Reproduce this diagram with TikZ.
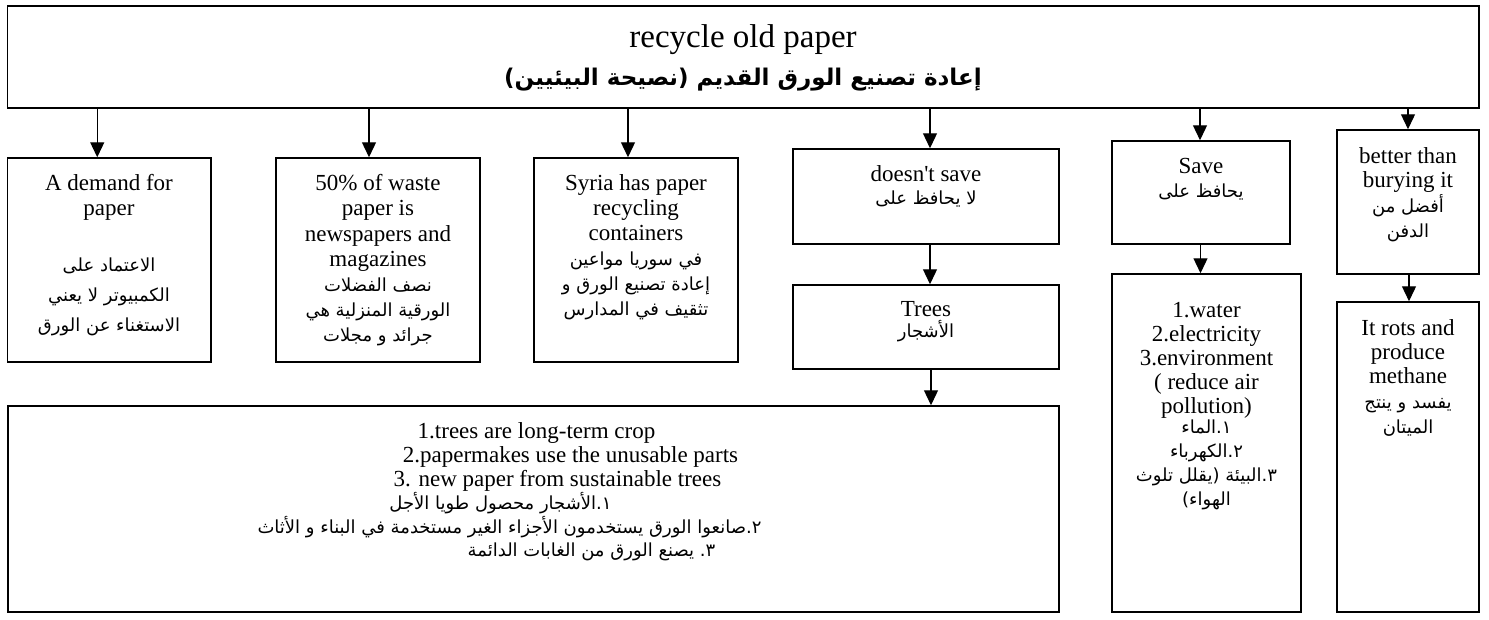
\documentclass[tikz,border=0pt]{standalone}
\usepackage{fontspec}
\setmainfont{Liberation Serif}[Ligatures=TeXOff]
\newfontfamily\arabicfont[Script=Arabic]{DejaVu Sans}
\TeXXeTstate=1
\usetikzlibrary{arrows.meta,fit}

% English and Arabic text settings
\newcommand\en[1][25]{\fontsize{23}{#1}\selectfont}
\newcommand\arb[1][25]{\arabicfont\fontsize{18}{#1}\selectfont}
\newcommand\rl[1]{\beginR #1\endR}
% a centred block whose baseline is that of its first line
\newcommand\cell[2]{\vtop{\hsize=#1\relax\parindent=0pt\parskip=0pt\centering #2\par}}
% shift one centred line sideways by #1
\newcommand\sh[2]{\hspace*{#1}\hspace*{#1}#2}

\begin{document}
\begin{tikzpicture}[x=1pt,y=-1pt,
  box/.style={draw, line width=1.5pt, inner sep=0pt},
  arr/.style={line width=1.3pt, -{Triangle[length=15pt,width=14pt]}},
  txt/.style={anchor=base, inner sep=0pt}]
\useasboundingbox (0,0) rectangle (1489,619);

% boxes
\node[box, fit={(7.5,6) (1479,108)}] (top) {};
\node[box, fit={(7.5,158) (211,362)}] (demand) {};
\node[box, fit={(276,158) (480,362)}] (waste) {};
\node[box, fit={(534,158) (738,362)}] (syria) {};
\node[box, fit={(793,149) (1059,244)}] (nosave) {};
\node[box, fit={(793,285) (1059,369)}] (trees) {};
\node[box, fit={(8,406) (1059,612)}] (reasons) {};
\node[box, fit={(1112,141) (1290,244)}] (save) {};
\node[box, fit={(1112,274) (1301,612)}] (items) {};
\node[box, fit={(1337,130) (1479,274)}] (better) {};
\node[box, fit={(1337,302) (1479,612)}] (rots) {};

% texts
\node[txt] (topT) at (743,47) {\fontsize{33}{38}\selectfont recycle old paper};
\node[txt] (topA) at (743,85) {\arabicfont\bfseries\fontsize{23}{28}\selectfont
  \rl{إعادة تصنيع الورق القديم (نصيحة البيئيين)}};

\node[txt] (demandT) at (109,190.5) {\cell{200pt}{\en A demand for\\paper\par
  \vspace{26pt}\arb[30]\rl{الاعتماد على}\\\rl{الكمبيوتر لا يعني}\\\rl{الاستغناء عن الورق}}};

\node[txt] (wasteT) at (378,190.5) {\cell{200pt}{\en[25.3] 50\% of waste\\paper is\\newspapers and\\magazines\par
  \arb\rl{نصف الفضلات}\\\rl{الورقية المنزلية هي}\\\rl{جرائد و مجلات}}};

\node[txt] (syriaT) at (636,190) {\cell{200pt}{\en Syria has paper\\recycling\\containers\par
  \arb\rl{في سوريا مواعين}\\\rl{إعادة تصنيع الورق و}\\\rl{تثقيف في المدارس}}};

\node[txt] (nosaveT) at (926,181) {\cell{260pt}{\en doesn't save\par
  \arb[23]\rl{لا يحافظ على}}};

\node[txt] (treesT) at (926,316) {\cell{260pt}{\en Trees\par
  \arb[21]\rl{الأشجار}}};

\node[txt] (saveT) at (1201,173) {\cell{175pt}{\en Save\par
  \arb[24]\rl{يحافظ على}}};

\node[txt] (betterT) at (1408,163) {\cell{140pt}{\en[24] better than\\burying it\par
  \arb[25]\rl{أفضل من}\\\rl{الدفن}}};

\node[txt] (itemsT) at (1206.5,317) {\cell{185pt}{\en[24] 1.water\\2.electricity\\3.environment\\( reduce air\\pollution)\par
  \arb[20]\rl{١.الماء}\\[4pt]\rl{٢.الكهرباء}\\[4pt]\rl{٣.البيئة (يقلل تلوث}\\[4pt]\rl{الهواء)}}};

\node[txt] (rotsT) at (1408,335) {\cell{140pt}{\en[24] It rots and\\produce\\methane\par
  \arb[25]\rl{يفسد و ينتج}\\\rl{الميتان}}};

\node[txt] (reasonsT) at (533.5,438) {\cell{1040pt}{\en[24]
  \sh{3pt}{1.trees are long-term crop}\\
  \sh{37pt}{2.papermakes use the unusable parts}\\
  \sh{24pt}{3. new paper from sustainable trees}\par
  \arb[23.5]
  \sh{-33pt}{\rl{١.الأشجار محصول طويا الأجل}}\\
  \sh{-24pt}{\rl{٢.صانعوا الورق يستخدمون الأجزاء الغير مستخدمة في البناء و الأثاث}}\\
  \sh{58pt}{\rl{٣.^^^^200f يصنع الورق من الغابات الدائمة}}}};

% connectors
\draw[arr] ([xshift=-12pt]demand.north |- top.south) -- ([xshift=-12pt]demand.north);
\draw[arr] ([xshift=-9pt]waste.north |- top.south) -- ([xshift=-9pt]waste.north);
\draw[arr] ([xshift=-8pt]syria.north |- top.south) -- ([xshift=-8pt]syria.north);
\draw[arr] ([xshift=4pt]nosave.north |- top.south) -- ([xshift=4pt]nosave.north);
\draw[arr] ([xshift=-1pt]save.north |- top.south) -- ([xshift=-1pt]save.north);
\draw[arr] (better.north |- top.south) -- (better.north);
\draw[arr] ([xshift=4pt]nosave.south) -- ([xshift=4pt]trees.north);
\draw[arr] ([xshift=5pt]trees.south) -- ([xshift=5pt]trees.south |- reasons.north);
\draw[arr] ([xshift=-0.5pt]save.south) -- ([xshift=-0.5pt]save.south |- items.north);
\draw[arr] ([xshift=1pt]better.south) -- ([xshift=1pt]rots.north);
\end{tikzpicture}
\end{document}
